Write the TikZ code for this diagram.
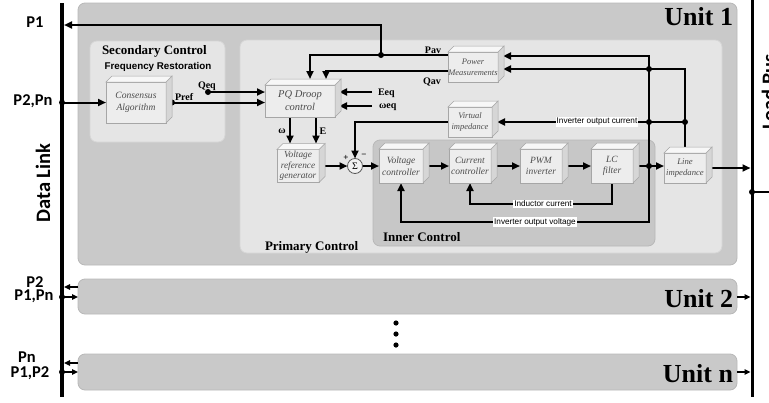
\documentclass[tikz,border=0pt]{standalone}
\usepackage{fontspec}
\setmainfont{Liberation Serif}
\newfontfamily\calfont{Carlito}
\newfontfamily\arfont{Liberation Sans}
\usetikzlibrary{arrows.meta,calc}
\pgfdeclarelayer{panel}
\pgfdeclarelayer{wires}
\pgfsetlayers{panel,wires,main}
\newcommand{\blockdepth}[1]{%
  \filldraw[blkside] (#1.north east) -- ++(6,-6) -- ($(#1.south east)+(6,-6)$) -- (#1.south east) -- cycle;
  \filldraw[blktop] (#1.north west) -- ++(6,-6) -- ($(#1.north east)+(6,-6)$) -- (#1.north east) -- cycle;}
\begin{document}
\begin{tikzpicture}[x=1pt,y=-1pt,
  every node/.style={inner sep=0pt, outer sep=0pt},
  panelU/.style={fill=black!21, draw=black!28, line width=0.8pt, rounded corners=7pt},
  panelP/.style={fill=black!10, draw=black!16, line width=0.8pt, rounded corners=7pt},
  panelI/.style={fill=black!22, draw=black!28, line width=0.8pt, rounded corners=7pt},
  blk/.style={draw=black!35, fill=black!7, line width=0.5pt, align=center, text=black!70, font=\itshape\fontsize{9.5}{11.5}\selectfont},
  blktop/.style={draw=black!35, fill=black!3, line width=0.5pt},
  blkside/.style={draw=black!35, fill=black!16, line width=0.5pt},
  wire/.style={line width=2pt},
  arr/.style={line width=2pt, -{Triangle[length=8pt,width=7pt]}},
  sarr/.style={line width=1.6pt, -{Triangle[length=6pt,width=5.5pt]}},
  lbl/.style={font=\bfseries\fontsize{10}{12}\selectfont},
  sig/.style={font=\calfont\bfseries\fontsize{16.5}{18}\selectfont, text height=10.5pt, text depth=0pt},
  wlbl/.style={font=\arfont\fontsize{8.2}{9}\selectfont, fill=white, inner sep=1pt},
  ttl/.style={font=\bfseries\fontsize{13}{15}\selectfont},
  unitlbl/.style={font=\bfseries\fontsize{26}{28}\selectfont},
]
\useasboundingbox (0,0) rectangle (769,402);

% ---------- panels ----------
\begin{pgfonlayer}{panel}
\draw[panelU] (78,3) rectangle (737,265);
\draw[panelP] (90,41) rectangle (225,142);
\draw[panelP] (240,40) rectangle (722,253);
\draw[panelI] (373,140) rectangle (655,246);
\draw[panelU] (78,279) rectangle (737,314);
\draw[panelU] (78,354) rectangle (737,390);
\end{pgfonlayer}

% ---------- blocks ----------
\node[blk, font=\itshape\fontsize{9.6}{12.5}\selectfont, minimum width=60pt, minimum height=41pt] (cons) at (136,102.5) {Consensus\\Algorithm};
\node[blk, font=\itshape\fontsize{10.5}{13}\selectfont, minimum width=70pt, minimum height=32pt] (pq) at (300,101) {PQ Droop\\control};
\node[blk, font=\itshape\fontsize{8.5}{11}\selectfont, minimum width=50pt, minimum height=30pt] (pm) at (473,67) {Power\\Measurements};
\node[blk, font=\itshape\fontsize{8.5}{11}\selectfont, minimum width=44pt, minimum height=30pt] (vi) at (470,122) {Virtual\\impedance};
\node[blk, font=\itshape\fontsize{9.3}{10.5}\selectfont, minimum width=42pt, minimum height=33pt] (vrg) at (298,166) {Voltage\\reference\\generator};
\node[circle, draw=black!65, fill=black!5, line width=0.8pt, minimum size=15pt, font=\fontsize{10}{12}\selectfont] (sig) at (355,166) {Σ};
\node[blk, minimum width=44pt, minimum height=34pt] (vc) at (401,166) {Voltage\\controller};
\node[blk, minimum width=42pt, minimum height=34pt] (cc) at (470,166) {Current\\controller};
\node[blk, minimum width=42pt, minimum height=34pt] (pwm) at (541,166) {PWM\\inverter};
\node[blk, minimum width=42pt, minimum height=34pt] (lc) at (612,166) {LC\\filter};
\node[blk, font=\itshape\fontsize{8.7}{11}\selectfont, minimum width=42pt, minimum height=30pt] (li) at (685,168) {Line\\impedance};
\foreach \b in {cons,pq,pm,vi,vrg,vc,cc,pwm,lc,li} {\blockdepth{\b}}

% ---------- coordinates ----------
\coordinate (dl1) at (64,25);
\coordinate (dl2) at (62,102.5);
\coordinate (jp1) at (381,55);
\coordinate (qeq) at (208,92);
\coordinate (pref) at ($(cons.east)+(6,0)$);
\coordinate (pqr) at ($(pq.east)+(4,0)$);
\coordinate (eeq) at (372,92);
\coordinate (weq) at (372,106);
\coordinate (pmr) at ($(pm.east)+(5,0)$);
\coordinate (vir) at ($(vi.east)+(5,0)$);
\coordinate (jv) at (649,166);
\coordinate (lb1) at (750.5,168);
\coordinate (lbd) at (752,192);

% ---------- wires ----------
\begin{pgfonlayer}{wires}
% secondary control
\draw[arr] (dl2) -- (dl2 -| cons.west);
\draw[arr] (pref) -- (pref -| pq.west);
\draw[arr] (qeq) -- (qeq -| pq.west);
% P1 to data link
\draw[arr] (jp1) |- (dl1);
% power measurement outputs
\draw[arr] (pm.west |- 0,55) -| ($(pq.north)+(10,-6)$);
\draw[arr] (pm.west |- 0,71) -| ($(pq.north)+(26,-6)$);
% references
\draw[arr] (eeq) -- (pqr |- eeq);
\draw[arr] (weq) -- (pqr |- weq);
% droop outputs
\draw[arr] ($(pq.south)+(-10,0)$) -- ($(vrg.north)+(-8,-6)$);
\draw[arr] ($(pq.south)+(16,0)$) -- ($(vrg.north)+(18,-6)$);
% sum
\draw[arr] ($(vrg.east)+(6,0)$) -- (sig.west);
\draw[arr] (vi.west) -| (sig.north);
\draw[arr] (sig.east) -- (vc.west);
% inner chain
\draw[arr] ($(vc.east)+(6,0)$) -- (cc.west);
\draw[arr] ($(cc.east)+(6,0)$) -- (pwm.west);
\draw[arr] ($(pwm.east)+(6,0)$) -- (lc.west);
\draw[arr] ($(lc.east)+(6,0)$) -- (lc.east -| li.west);
\draw[arr] ($(li.east)+(6,0)$) -- (lb1);
% feedbacks
\draw[arr] (jv) |- (pmr |- 0,56);
\draw[arr] (li.north) |- (pmr |- 0,69);
\draw[arr] (li.north |- 0,122) -- (vir |- 0,122);
\draw[arr] (jv) -- (jv |- 0,222) -| (vc.south);
\draw[arr] (lc.south) -- (lc.south |- 0,204) -| (cc.south);
% junction dots
\foreach \p in {(jp1),(pref),(qeq),(dl2),(jv),(jv |- 0,69),(jv |- 0,122),(li.north |- 0,122),(lbd),(62,297),(62,372)}
  \fill \p circle (3pt);
% wire labels
\node[wlbl] at (597,122) {Inverter output current};
\node[wlbl] at (543,204) {Inductor current};
\node[wlbl] at (535,222) {Inverter output voltage};
% buses
\draw[line width=3.5pt] (62,3) -- (62,397);
\draw[line width=3pt] (752,0) -- (752,397);
\draw[line width=1.6pt] (lbd) -- (769,192);
% unit 2 / unit n links
\draw[sarr] (78,287) -- (64,287);
\draw[sarr] (62,297) -- (78,297);
\draw[sarr] (737,297) -- (750.5,297);
\draw[sarr] (78,363) -- (64,363);
\draw[sarr] (62,372) -- (78,372);
\draw[sarr] (737,372) -- (750.5,372);
\end{pgfonlayer}

% ---------- texts ----------
\node[unitlbl, anchor=base east] (t1) at (733,25) {Unit 1};
\node[unitlbl, anchor=base east] (t2) at (733,307) {Unit 2};
\node[unitlbl, anchor=base east] (tn) at (733,382) {Unit n};
\node[ttl, anchor=base west] (tsec) at (102,54) {Secondary Control};
\node[font=\arfont\bfseries\fontsize{9.8}{11}\selectfont, anchor=base] (tfr) at (158,69.5) {Frequency Restoration};
\node[ttl, anchor=base west] (tpri) at (265,250) {Primary Control};
\node[ttl, anchor=base west] (tinn) at (383,241) {Inner Control};

\node[lbl, anchor=base] (lpav) at (433,53) {Pav};
\node[lbl, anchor=base] (lqav) at (432,84) {Qav};
\node[lbl, anchor=base west] (leeq) at (378,95) {Eeq};
\node[lbl, anchor=base west] (lweq) at (379,108.5) {ωeq};
\node[lbl, anchor=base] (lw) at (282,133) {ω};
\node[lbl, anchor=base] (le) at (323,134) {E};
\node[lbl, anchor=base west] (lpref) at (175,100) {Pref};
\node[lbl, anchor=base west] (lqeq) at (198,88) {Qeq};
\node[font=\bfseries\fontsize{9}{10}\selectfont] (lplus) at (346,158) {+};
\node[font=\bfseries\fontsize{9}{10}\selectfont] (lminus) at (364,156) {−};

\node[sig, anchor=base] (lp1) at (35,27) {P1};
\node[sig, anchor=base] (lp2) at (33,105) {P2,Pn};
\node[sig, anchor=base] (lp2b) at (35,287) {P2};
\node[sig, anchor=base] (lp1n) at (34,300.5) {P1,Pn};
\node[sig, anchor=base] (lpn) at (27,362.5) {Pn};
\node[sig, anchor=base] (lp12) at (30,377) {P1,P2};
\node[font=\calfont\bfseries\fontsize{20.5}{22}\selectfont, rotate=90, anchor=base] (tdl) at (50,183) {Data Link};
\node[font=\calfont\bfseries\fontsize{20.5}{22}\selectfont, rotate=90, anchor=base] (tlb) at (776,92) {Load Bus};

% dots between units
\foreach \yy in {323,334,345} \fill (396,\yy) circle (2.6pt);
\end{tikzpicture}
\end{document}
